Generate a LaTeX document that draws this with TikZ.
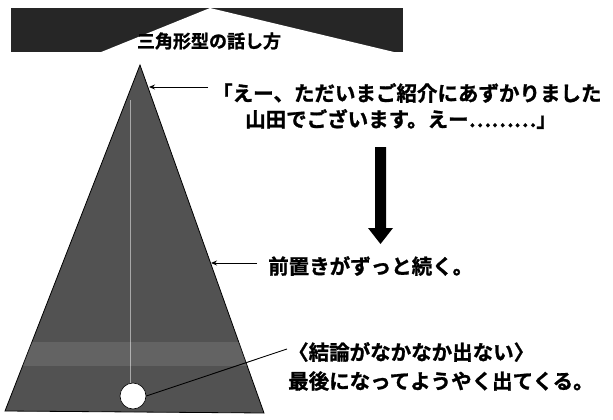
\documentclass[tikz,border=0pt]{standalone}
\usepackage{fontspec}
\setmainfont{Noto Sans CJK JP}[BoldFont={Noto Sans CJK JP Bold}, BoldFeatures={FakeBold=1.2}]
\usetikzlibrary{arrows.meta}
\tikzset{
  lbl/.style={anchor=west, inner sep=0pt, font=\fontsize{20.5}{24}\selectfont\bfseries},
  ttl/.style={inner sep=0pt, font=\fontsize{18}{20}\selectfont\bfseries},
  pointer/.style={line width=0.9pt, -{Stealth[length=6pt,width=5pt]}},
  plainline/.style={line width=0.9pt},
  tri/.style={fill=black!68, draw=black, line width=0.8pt},
  band/.style={fill=black!85},
}
\begin{document}
\begin{tikzpicture}[x=1pt,y=-1pt]
\useasboundingbox (0,0) rectangle (613,420);
% header banner
\fill[band] (11,8) rectangle (403,52);
\fill[white] (210,8) -- (100,52.5) -- (396,52.5) -- cycle;
\node[ttl] (title) at (209,41) {三角形型の話し方};
% triangle
\coordinate (apex) at (140,65);
\coordinate (bl) at (5,411);
\coordinate (br) at (264,413);
\filldraw[tri] (apex) -- (bl) -- (br) -- cycle;
\begin{scope}
\clip (apex) -- (bl) -- (br) -- cycle;
\fill[white, opacity=0.1] (0,342) rectangle (300,366);
\end{scope}
\draw[white, line width=1pt, opacity=0.5] (130,100) -- (130,385);
\node[circle, fill=white, draw=black, line width=0.6pt, minimum size=26pt, inner sep=0pt] (dot) at (133,396) {};
% texts
\node[lbl] (t1) at (212,93) {「えー、ただいまご紹介にあずかりました};
\node[lbl] (t2) at (245,119) {山田でございます。えー………」};
\node[lbl] (t3) at (268,266) {前置きがずっと続く。};
\node[lbl] (t4) at (288,352) {〈結論がなかなか出ない〉};
\node[lbl] (t5) at (288,381) {最後になってようやく出てくる。};
% connectors
\coordinate (e1) at (149,87);
\coordinate (s1) at (208,87);
\draw[pointer] (s1) -- (e1);
\coordinate (e2) at (211,263);
\coordinate (s2) at (257,263);
\draw[pointer] (s2) -- (e2);
\coordinate (s3) at (287,349);
\draw[plainline] (s3) -- (dot.east);
% big down arrow
\fill[black] (375,147) -- (386,147) -- (386,228) -- (393,228) -- (380.5,244) -- (368,228) -- (375,228) -- cycle;
\end{tikzpicture}
\end{document}
